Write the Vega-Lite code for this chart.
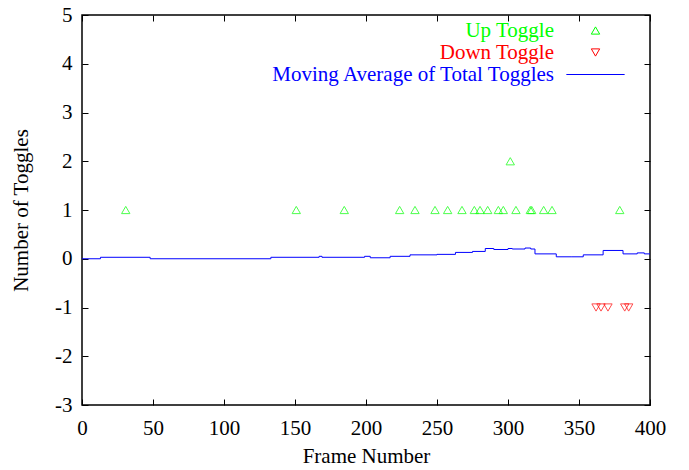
{
  "$schema": "https://vega.github.io/schema/vega-lite/v6.json",
  "width": 568,
  "height": 390,
  "autosize": {"type": "none"},
  "padding": {"left": 82, "top": 15, "right": 39, "bottom": 65},
  "background": "white",
  "config": {
    "font": "Liberation Serif",
    "view": {"stroke": "black", "strokeWidth": 1.5},
    "axis": {
      "grid": false,
      "domain": false,
      "tickColor": "black",
      "tickSize": -6,
      "tickWidth": 1,
      "labelFlush": false,
      "labelOverlap": false,
      "labelFont": "Liberation Serif",
      "labelFontSize": 21,
      "labelColor": "black",
      "titleFont": "Liberation Serif",
      "titleFontSize": 21,
      "titleFontWeight": "normal",
      "titleColor": "black"
    },
    "legend": {
      "orient": "none", "legendX": 503, "legendY": 5,
      "title": null, "labelFont": "Liberation Serif", "labelFontSize": 21,
      "labelAlign": "right", "labelOffset": -52, "labelLimit": 0, "rowPadding": 0,
      "symbolSize": 70, "symbolStrokeWidth": 1
    }
  },
  "resolve": {"axis": {"x": "independent", "y": "independent"}},
  "layer": [
    {
      "data": {"values": [
        {"frame": 0, "avg": 0}, {"frame": 13, "avg": 0.03}, {"frame": 48, "avg": 0},
        {"frame": 133, "avg": 0.03}, {"frame": 167, "avg": 0.05}, {"frame": 169, "avg": 0.03},
        {"frame": 199, "avg": 0.05}, {"frame": 203, "avg": 0.02}, {"frame": 217, "avg": 0.05},
        {"frame": 231, "avg": 0.08}, {"frame": 250, "avg": 0.09}, {"frame": 263, "avg": 0.13},
        {"frame": 275, "avg": 0.15}, {"frame": 284, "avg": 0.21}, {"frame": 290, "avg": 0.19},
        {"frame": 300, "avg": 0.21}, {"frame": 303, "avg": 0.2}, {"frame": 312, "avg": 0.22},
        {"frame": 316, "avg": 0.2}, {"frame": 319, "avg": 0.1}, {"frame": 334, "avg": 0.04},
        {"frame": 345, "avg": 0.04}, {"frame": 353, "avg": 0.08}, {"frame": 367, "avg": 0.17},
        {"frame": 381, "avg": 0.1}, {"frame": 391, "avg": 0.12}, {"frame": 396, "avg": 0.1},
        {"frame": 400, "avg": 0.1}
      ]},
      "transform": [{"calculate": "'Moving Average of Total Toggles'", "as": "series"}],
      "mark": {"type": "line", "interpolate": "step-after", "strokeWidth": 1, "clip": true},
      "encoding": {
        "x": {"field": "frame", "type": "quantitative",
              "scale": {"domain": [0, 400], "nice": false},
              "axis": {"orient": "bottom", "values": [0, 50, 100, 150, 200, 250, 300, 350, 400], "labelPadding": 18, "title": "Frame Number", "titlePadding": 7}},
        "y": {"field": "avg", "type": "quantitative",
              "scale": {"domain": [-3, 5], "nice": false},
              "axis": {"orient": "left", "values": [-3, -2, -1, 0, 1, 2, 3, 4, 5], "labelPadding": 16, "labelExpr": "'' + datum.value", "title": "Number of Toggles", "titlePadding": 23}},
        "color": {"field": "series", "type": "nominal",
                  "scale": {"domain": ["Up Toggle", "Down Toggle", "Moving Average of Total Toggles"], "range": ["#00ff00", "#ff0000", "#0000ff"]},
                  "legend": {"encode": {
                    "labels": {"update": {"fill": {"scale": "color", "field": "value"}}},
                    "symbols": {"update": {"size": {"signal": "datum.value === 'Moving Average of Total Toggles' ? 3400 : 70"}}}
                  }}}
      }
    },
    {
      "data": {"values": [
        {"frame": 30.8, "toggles": 1, "series": "Up Toggle"},
        {"frame": 150.9, "toggles": 1, "series": "Up Toggle"},
        {"frame": 184.7, "toggles": 1, "series": "Up Toggle"},
        {"frame": 223.7, "toggles": 1, "series": "Up Toggle"},
        {"frame": 234.5, "toggles": 1, "series": "Up Toggle"},
        {"frame": 248.6, "toggles": 1, "series": "Up Toggle"},
        {"frame": 257.5, "toggles": 1, "series": "Up Toggle"},
        {"frame": 267.6, "toggles": 1, "series": "Up Toggle"},
        {"frame": 276.3, "toggles": 1, "series": "Up Toggle"},
        {"frame": 280.3, "toggles": 1, "series": "Up Toggle"},
        {"frame": 285.7, "toggles": 1, "series": "Up Toggle"},
        {"frame": 293.2, "toggles": 1, "series": "Up Toggle"},
        {"frame": 296.7, "toggles": 1, "series": "Up Toggle"},
        {"frame": 301.6, "toggles": 2, "series": "Up Toggle"},
        {"frame": 305.6, "toggles": 1, "series": "Up Toggle"},
        {"frame": 315.7, "toggles": 1, "series": "Up Toggle"},
        {"frame": 316.7, "toggles": 1, "series": "Up Toggle"},
        {"frame": 325.1, "toggles": 1, "series": "Up Toggle"},
        {"frame": 331, "toggles": 1, "series": "Up Toggle"},
        {"frame": 378.7, "toggles": 1, "series": "Up Toggle"},
        {"frame": 362, "toggles": -1, "series": "Down Toggle"},
        {"frame": 365.5, "toggles": -1, "series": "Down Toggle"},
        {"frame": 370.4, "toggles": -1, "series": "Down Toggle"},
        {"frame": 382.2, "toggles": -1, "series": "Down Toggle"},
        {"frame": 385, "toggles": -1, "series": "Down Toggle"}
      ]},
      "mark": {"type": "point", "filled": false, "size": 70, "strokeWidth": 1},
      "encoding": {
        "x": {"field": "frame", "type": "quantitative",
              "axis": {"orient": "top", "values": [0, 50, 100, 150, 200, 250, 300, 350, 400], "labels": false, "title": null}},
        "y": {"field": "toggles", "type": "quantitative",
              "axis": {"orient": "right", "values": [-3, -2, -1, 0, 1, 2, 3, 4, 5], "labels": false, "title": null}},
        "color": {"field": "series", "type": "nominal",
                  "legend": {"encode": {
                    "labels": {"update": {"fill": {"scale": "color", "field": "value"}}},
                    "symbols": {"update": {"size": {"signal": "datum.value === 'Moving Average of Total Toggles' ? 3400 : 70"}}}
                  }}},
        "shape": {"field": "series", "type": "nominal",
                  "scale": {"domain": ["Up Toggle", "Down Toggle", "Moving Average of Total Toggles"], "range": ["triangle-up", "triangle-down", "stroke"]}}
      }
    }
  ]
}
